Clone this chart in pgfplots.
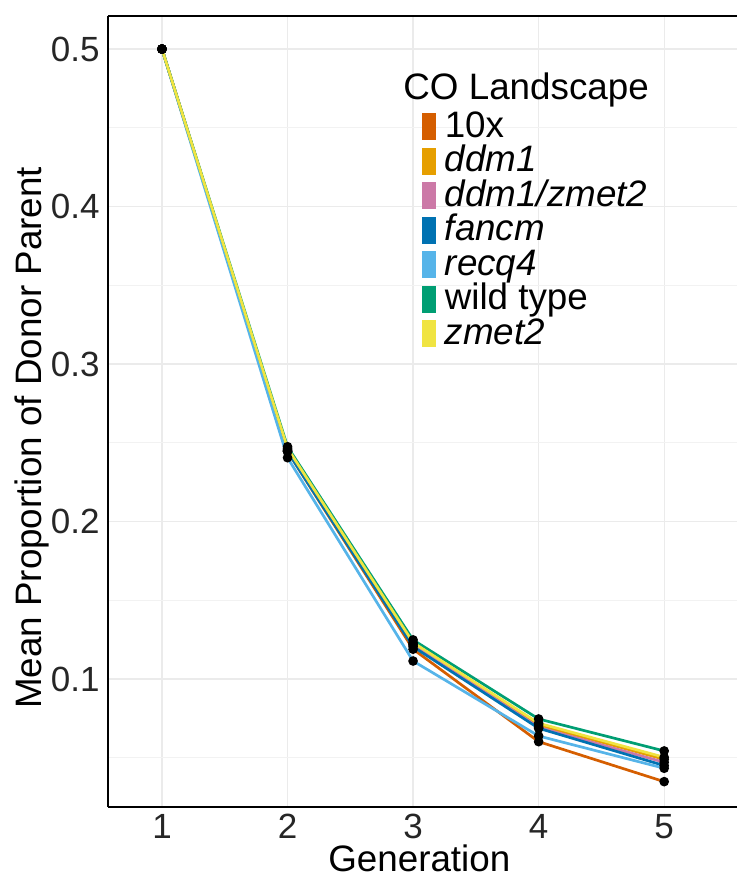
\documentclass[border=0pt]{standalone}
\usepackage{fontspec}
\setmainfont{Liberation Sans}
\usepackage{pgfplots}
\usepackage{pgfplotstable}
\pgfplotsset{compat=1.18}

\definecolor{cTen}{HTML}{D55E00}
\definecolor{cDdm}{HTML}{E69F00}
\definecolor{cDdmZ}{HTML}{CC79A7}
\definecolor{cFan}{HTML}{0072B2}
\definecolor{cRec}{HTML}{56B4E9}
\definecolor{cWt}{HTML}{009E73}
\definecolor{cZm}{HTML}{F0E442}
\definecolor{gridmaj}{HTML}{EBEBEB}
\definecolor{gridmin}{HTML}{F2F2F2}

% mean proportion of donor parent per generation
\pgfplotstableread{
gen  tenx   ddm    ddmz   fancm  recq   wt     zmet
1    0.5    0.5    0.5    0.5    0.5    0.5    0.5
2    0.2445 0.2455 0.2450 0.2445 0.2405 0.2475 0.2465
3    0.1189 0.1222 0.1216 0.1205 0.1114 0.1248 0.1231
4    0.0602 0.0708 0.0693 0.0687 0.0638 0.0746 0.0719
5    0.0348 0.0490 0.0471 0.0450 0.0433 0.0543 0.0503
}\donor

\begin{document}
\begin{tikzpicture}
\begin{axis}[
    scale only axis,
    width=314.5pt, height=395.5pt,
    xmin=0.57, xmax=5.58,
    ymin=0.0187, ymax=0.521,
    clip=false,
    axis x line=box, axis y line=left,
    axis line style={-, black, line width=0.6pt},
    xtick={1,2,3,4,5}, xticklabels={1,2,3,4,5},
    ytick={0.1,0.2,0.3,0.4,0.5}, yticklabels={0.1,0.2,0.3,0.4,0.5},
    minor ytick={0.05,0.15,0.25,0.35,0.45},
    major tick length=0pt, minor tick length=0pt,
    xmajorgrids, ymajorgrids, yminorgrids,
    major grid style={color=gridmaj, line width=0.6pt},
    minor grid style={color=gridmin, line width=0.5pt},
    tick label style={font=\fontsize{17.5}{17.5}\selectfont, text=black!85},
    xticklabel style={inner sep=0pt, yshift=-3.3pt},
    yticklabel style={inner sep=0pt, xshift=-4pt},
    xlabel={Generation},
    ylabel={Mean Proportion of Donor Parent},
    label style={font=\fontsize{18.4}{18.4}\selectfont, inner sep=0pt},
    xlabel style={at={(rel axis cs:0.4949,-0.0815)}, anchor=base},
    ylabel style={at={(rel axis cs:-0.1054,0.4666)}, anchor=base, rotate=0},
    legend style={at={(rel axis cs:0.4987,0.8823)}, anchor=north west,
        draw=none, fill=none, inner sep=0pt, row sep=0pt,
        font=\fontsize{18.4}{18.4}\selectfont,
        nodes={inner sep=0pt, text height=13.8pt, text depth=3.45pt},
        /tikz/every odd column/.append style={column sep=4.5pt}},
    legend cell align=left,
    legend image code/.code={\fill[#1] (0pt,-6pt) rectangle (5.5pt,6pt);},
    every axis plot/.append style={line width=1.35pt},
]
\addplot[cTen, no marks] table[x=gen, y=tenx] {\donor};
\addlegendentry{10x}
\addplot[cDdm, no marks] table[x=gen, y=ddm] {\donor};
\addlegendentry{\textit{ddm1}}
\addplot[cDdmZ, no marks] table[x=gen, y=ddmz] {\donor};
\addlegendentry{\textit{ddm1/zmet2}}
\addplot[cFan, no marks] table[x=gen, y=fancm] {\donor};
\addlegendentry{\textit{fancm}}
\addplot[cRec, no marks] table[x=gen, y=recq] {\donor};
\addlegendentry{\textit{recq4}}
\addplot[cWt, no marks] table[x=gen, y=wt] {\donor};
\addlegendentry{wild type}
\addplot[cZm, no marks] table[x=gen, y=zmet] {\donor};
\addlegendentry{\textit{zmet2}}

% points on top of all lines
\pgfplotsinvokeforeach{tenx,ddm,ddmz,fancm,recq,wt,zmet}{
  \addplot[forget plot, only marks, mark=*, mark size=1.7pt, black] table[x=gen, y=#1] {\donor};
}

\node[anchor=base west, inner sep=0pt, font=\fontsize{18.4}{18.4}\selectfont]
  at (rel axis cs:0.469,0.8947) {CO Landscape};
\end{axis}
\pgfresetboundingbox
\path[use as bounding box] ([xshift=-54pt,yshift=-35.5pt]current axis.south west)
  rectangle ([yshift=8pt]current axis.north east);
\end{tikzpicture}
\end{document}
